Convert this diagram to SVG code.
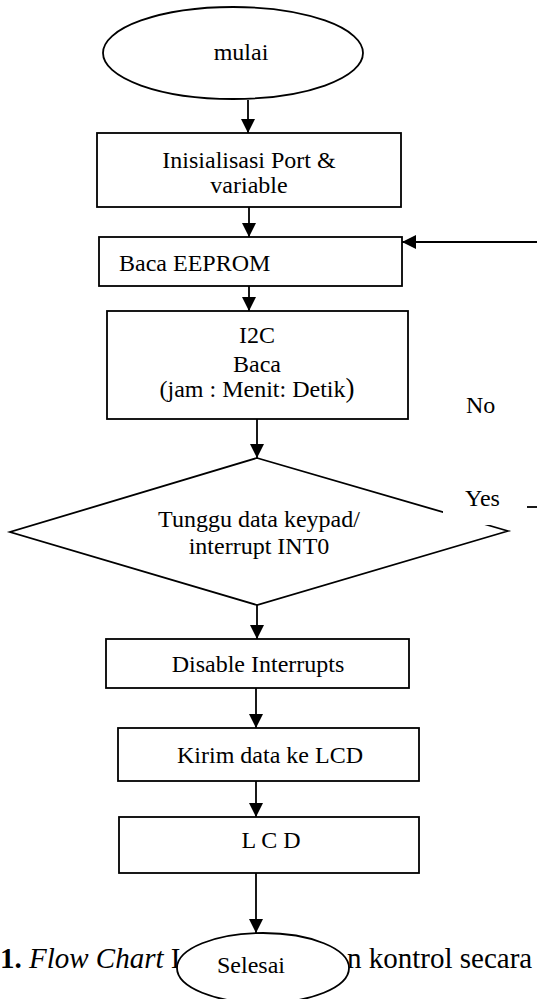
<svg xmlns="http://www.w3.org/2000/svg" width="537" height="999" viewBox="0 0 537 999">
<defs>
<style>
.s{fill:#fff;stroke:#000;stroke-width:1.8}
.t{font-family:"Liberation Serif","Times New Roman",serif;font-size:24px;fill:#000}
.c{text-anchor:middle}
.cap{font-family:"Liberation Serif","Times New Roman",serif;font-size:29px;fill:#000}
.e{stroke:#000;stroke-width:1.8;fill:none}
</style>
<marker id="ah" viewBox="0 0 14 14" refX="14" refY="7" markerWidth="14" markerHeight="14" markerUnits="userSpaceOnUse" orient="auto">
<path d="M0,0 L14,7 L0,14 z" fill="#000"/>
</marker>
</defs>
<rect width="537" height="999" fill="#fff"/>
<g id="caption">
<text class="cap" x="0" y="968"><tspan font-weight="bold">1.</tspan> <tspan font-style="italic">Flow Chart</tspan> I</text>
<text class="cap" x="347" y="968">n kontrol secara</text>
</g>
<g id="connectors">
<line class="e" x1="248" y1="100" x2="248" y2="133" marker-end="url(#ah)"/>
<line class="e" x1="249" y1="207" x2="249" y2="237" marker-end="url(#ah)"/>
<line class="e" x1="249" y1="286" x2="249" y2="311" marker-end="url(#ah)"/>
<line class="e" x1="537" y1="242" x2="402" y2="242" marker-end="url(#ah)"/>
<line class="e" x1="257" y1="419" x2="257" y2="458" marker-end="url(#ah)"/>
<line class="e" x1="257" y1="605" x2="257" y2="639" marker-end="url(#ah)"/>
<line class="e" x1="256" y1="688" x2="256" y2="728" marker-end="url(#ah)"/>
<line class="e" x1="256" y1="781" x2="256" y2="817" marker-end="url(#ah)"/>
<line class="e" x1="256" y1="873" x2="256" y2="933" marker-end="url(#ah)"/>
<line class="e" x1="527" y1="507" x2="537" y2="507"/>
</g>
<g id="mulai">
<ellipse class="s" cx="233" cy="53" rx="130" ry="46"/>
<text class="t c" x="241" y="60">mulai</text>
</g>
<g id="init">
<rect class="s" x="97" y="133" width="304" height="74"/>
<text class="t c" x="249" y="168">Inisialisasi Port &amp;</text>
<text class="t c" x="249" y="193">variable</text>
</g>
<g id="eeprom">
<rect class="s" x="99" y="237" width="303" height="49"/>
<text class="t" x="119" y="271">Baca EEPROM</text>
</g>
<g id="i2c">
<rect class="s" x="107" y="311" width="301" height="108"/>
<text class="t c" x="257" y="343">I2C</text>
<text class="t c" x="257" y="372">Baca</text>
<text class="t c" x="257" y="397">(jam : Menit: Detik<tspan font-size="27">)</tspan></text>
</g>
<g id="tunggu">
<polygon class="s" points="257,458 508,531 257,605 10,532"/>
<text class="t c" x="259" y="527">Tunggu data keypad/</text>
<text class="t c" x="259" y="554">interrupt INT0</text>
</g>
<g id="labels">
<rect x="443" y="482" width="67" height="43" fill="#fff"/>
<text class="t" x="465" y="506">Yes</text>
<text class="t" x="466" y="413">No</text>
</g>
<g id="disable">
<rect class="s" x="106" y="639" width="303" height="49"/>
<text class="t c" x="258" y="672">Disable Interrupts</text>
</g>
<g id="kirim">
<rect class="s" x="118" y="728" width="301" height="53"/>
<text class="t c" x="270" y="763">Kirim data ke LCD</text>
</g>
<g id="lcd">
<rect class="s" x="119" y="817" width="300" height="56"/>
<text class="t c" x="271" y="848">L C D</text>
</g>
<g id="selesai">
<ellipse class="s" cx="263" cy="968" rx="86" ry="35"/>
<text class="t c" x="251" y="973">Selesai</text>
</g>
</svg>
